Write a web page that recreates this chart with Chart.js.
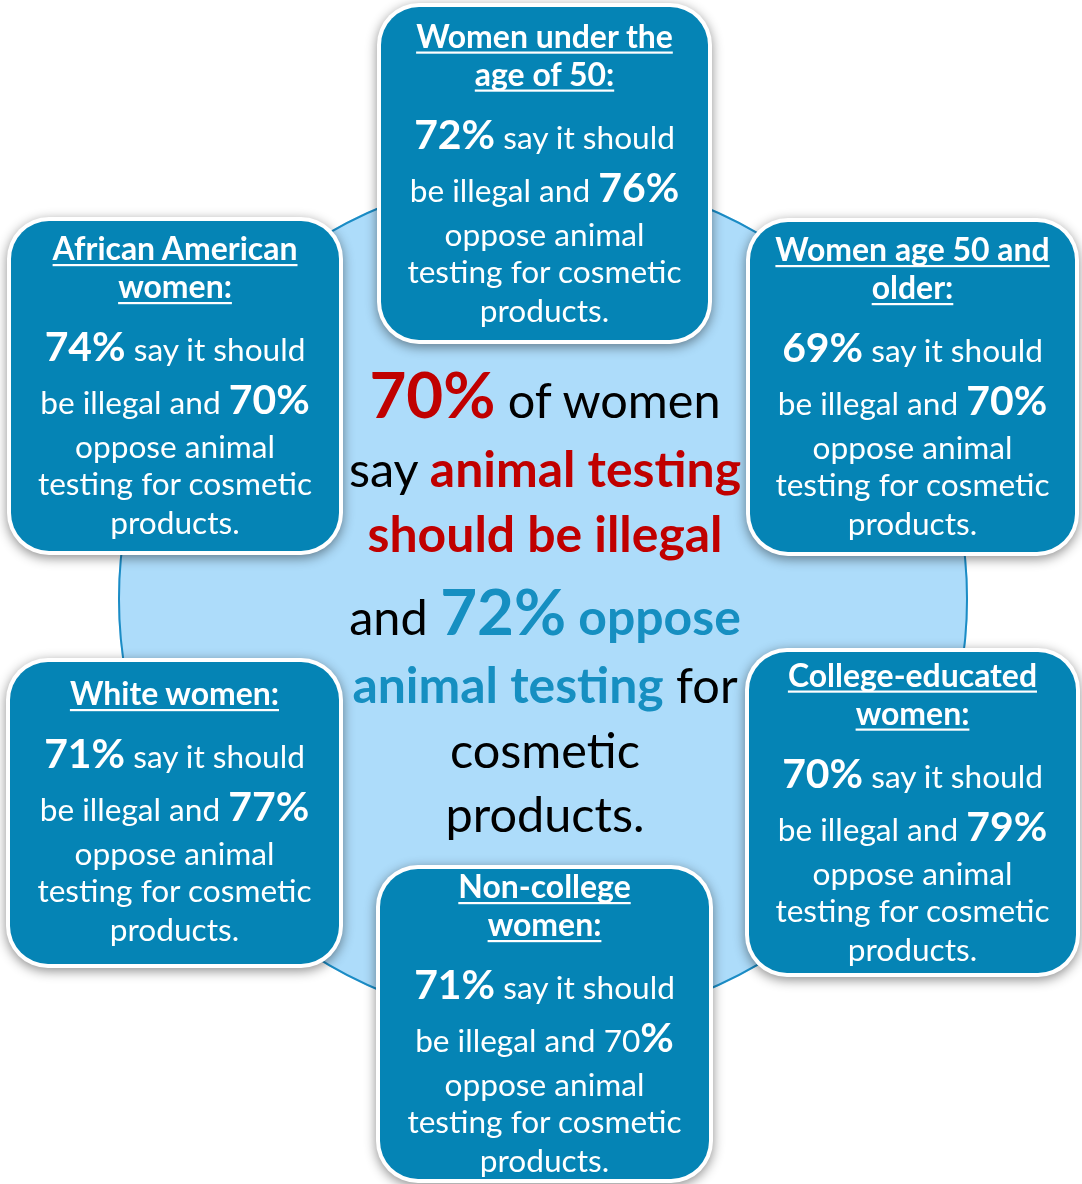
<!DOCTYPE html>
<html><head><meta charset="utf-8">
<script src="https://cdn.jsdelivr.net/npm/chart.js@4.4.1/dist/chart.umd.min.js"></script>
<style>
html,body{margin:0;padding:0;background:#fff;}
#wrap{position:relative;width:1082px;height:1184px;overflow:hidden;}
#c{position:absolute;left:0;top:0;}
#txt{position:absolute;left:0;top:0;pointer-events:none;}
#txt text{font-family:Lato,'Open Sans',sans-serif;white-space:pre;}
</style></head>
<body><div id="wrap"><canvas id="c" width="1082" height="1184"></canvas><svg id="txt" width="1082" height="1184" xmlns="http://www.w3.org/2000/svg"></svg></div>
<script>
// ---------- data ----------
const groupTitles = [
  ['Women under the', 'age of 50:'],
  ['Women age 50 and', 'older:'],
  ['College-educated', 'women:'],
  ['Non-college', 'women:'],
  ['White women:'],
  ['African American', 'women:']
];
const illegalPct = [72, 69, 70, 71, 71, 74];
const opposePct  = [76, 70, 79, 70, 77, 70];
const overallIllegal = 70;
const overallOppose = 72;

// ---------- layout / style ----------
const boxLayout = [
  {x:377, y:3,   w:335, h:341},
  {x:746, y:218, w:333, h:338},
  {x:745, y:648, w:335, h:329},
  {x:376, y:865, w:337, h:318},
  {x:6,   y:658, w:337, h:310},
  {x:7,   y:217, w:336, h:338}
];
const plainDigitsOppose = [false, false, false, true, false, false];
const BOX_BLUE = '#0584B5';
const RED = '#C00000';
const TEAL = '#168FC1';
const CIRCLE_FILL = '#ADDCFA';
const CIRCLE_LINE = '#1B8CC5';
const FONT = 'Lato';

// fit font sizes to reference widths
const mctx = document.createElement('canvas').getContext('2d');
function fit(text, weight, target){
  mctx.font = weight + ' 100px ' + FONT;
  return 100 * target / mctx.measureText(text).width;
}
const bodySize  = fit('testing for cosmetic', 400, 275);
const titleSize = fit('African American', 700, 246);
const numSize   = fit('72%', 700, 81);
const cReg      = fit('cosmetic', 400, 190);
const cBold     = fit('should be illegal', 700, 355);
const cBig      = fit('70%', 700, 126);

// ---------- chart (background circle) ----------
const boxPlugin = {
  id: 'boxes',
  afterDatasetsDraw(chart){
    const ctx = chart.ctx;
    const arc = chart.getDatasetMeta(0).data[0];
    ctx.save();
    ctx.strokeStyle = CIRCLE_LINE;
    ctx.lineWidth = 2;
    ctx.beginPath();
    ctx.arc(arc.x, arc.y, arc.outerRadius - 1, 0, Math.PI * 2);
    ctx.stroke();
    ctx.restore();
    boxLayout.forEach(b => {
      ctx.save();
      ctx.shadowColor = 'rgba(0,0,0,0.45)';
      ctx.shadowBlur = 12; ctx.shadowOffsetX = 0; ctx.shadowOffsetY = 3;
      ctx.fillStyle = '#ffffff';
      ctx.beginPath(); ctx.roundRect(b.x, b.y, b.w, b.h, 42); ctx.fill();
      ctx.restore();
      ctx.save();
      ctx.fillStyle = BOX_BLUE;
      ctx.beginPath(); ctx.roundRect(b.x + 4, b.y + 4, b.w - 8, b.h - 8, 38); ctx.fill();
      ctx.restore();
    });
  }
};

new Chart(document.getElementById('c'), {
  type: 'pie',
  data: {
    labels: ['All women'],
    datasets: [{
      data: [overallIllegal],
      backgroundColor: CIRCLE_FILL,
      borderWidth: 0,
      hoverOffset: 0,
      offset: 0
    }]
  },
  options: {
    responsive: false,
    animation: false,
    devicePixelRatio: 1,
    events: [],
    layout: {padding: {left: 118, right: 114, top: 174, bottom: 160}},
    plugins: {legend: {display: false}, tooltip: {enabled: false}}
  },
  plugins: [boxPlugin]
});

// ---------- text ----------
const NS = 'http://www.w3.org/2000/svg';
const svg = document.getElementById('txt');
function addText(x, y, parts, underline){
  const t = document.createElementNS(NS, 'text');
  t.setAttribute('x', x); t.setAttribute('y', y);
  t.setAttribute('text-anchor', 'middle');
  parts.forEach(p => {
    const s = document.createElementNS(NS, 'tspan');
    s.textContent = p.t;
    s.setAttribute('font-size', p.s.toFixed(2));
    s.setAttribute('font-weight', p.w || 400);
    s.setAttribute('fill', p.c);
    t.appendChild(s);
  });
  svg.appendChild(t);
  if (underline) {
    const len = t.getComputedTextLength();
    const r = document.createElementNS(NS, 'rect');
    r.setAttribute('x', (x - len / 2).toFixed(1));
    r.setAttribute('y', y + 4);
    r.setAttribute('width', len.toFixed(1));
    r.setAttribute('height', 2.2);
    r.setAttribute('fill', '#fff');
    svg.appendChild(r);
  }
}

groupTitles.forEach((title, i) => {
  const b = boxLayout[i];
  const cx = b.x + b.w / 2, cy = b.y + b.h / 2;
  const offs = title.length === 2 ? [-126, -88, -25, 28, 72, 109, 148] : [-108, -45, 8, 52, 89, 128];
  let k = 0;
  title.forEach(line => {
    addText(cx, cy + offs[k++], [{t: line, s: titleSize, w: 700, c: '#fff'}], true);
  });
  addText(cx, cy + offs[k++], [
    {t: illegalPct[i] + '%', s: numSize, w: 700, c: '#fff'},
    {t: ' say it should', s: bodySize, c: '#fff'}
  ]);
  const op = plainDigitsOppose[i]
    ? [{t: 'be illegal and ' + opposePct[i], s: bodySize, c: '#fff'}, {t: '%', s: numSize, w: 700, c: '#fff'}]
    : [{t: 'be illegal and ', s: bodySize, c: '#fff'}, {t: opposePct[i] + '%', s: numSize, w: 700, c: '#fff'}];
  addText(cx, cy + offs[k++], op);
  addText(cx, cy + offs[k++], [{t: 'oppose animal', s: bodySize, c: '#fff'}]);
  addText(cx, cy + offs[k++], [{t: 'testing for cosmetic', s: bodySize, c: '#fff'}]);
  addText(cx, cy + offs[k++], [{t: 'products.', s: bodySize, c: '#fff'}]);
});

const ccx = 545;
const cBase = [418, 487, 552, 635, 703, 768, 832];
addText(ccx, cBase[0], [{t: overallIllegal + '%', s: cBig, w: 700, c: RED}, {t: ' of women', s: cReg, c: '#000'}]);
addText(ccx, cBase[1], [{t: 'say ', s: cReg, c: '#000'}, {t: 'animal testing', s: cBold, w: 700, c: RED}]);
addText(ccx, cBase[2], [{t: 'should be illegal', s: cBold, w: 700, c: RED}]);
addText(ccx, cBase[3], [{t: 'and ', s: cReg, c: '#000'}, {t: overallOppose + '%', s: cBig, w: 700, c: TEAL}, {t: ' oppose', s: cBold, w: 700, c: TEAL}]);
addText(ccx, cBase[4], [{t: 'animal testing', s: cBold, w: 700, c: TEAL}, {t: ' for', s: cReg, c: '#000'}]);
addText(ccx, cBase[5], [{t: 'cosmetic', s: cReg, c: '#000'}]);
addText(ccx, cBase[6], [{t: 'products.', s: cReg, c: '#000'}]);
</script>
</body></html>
